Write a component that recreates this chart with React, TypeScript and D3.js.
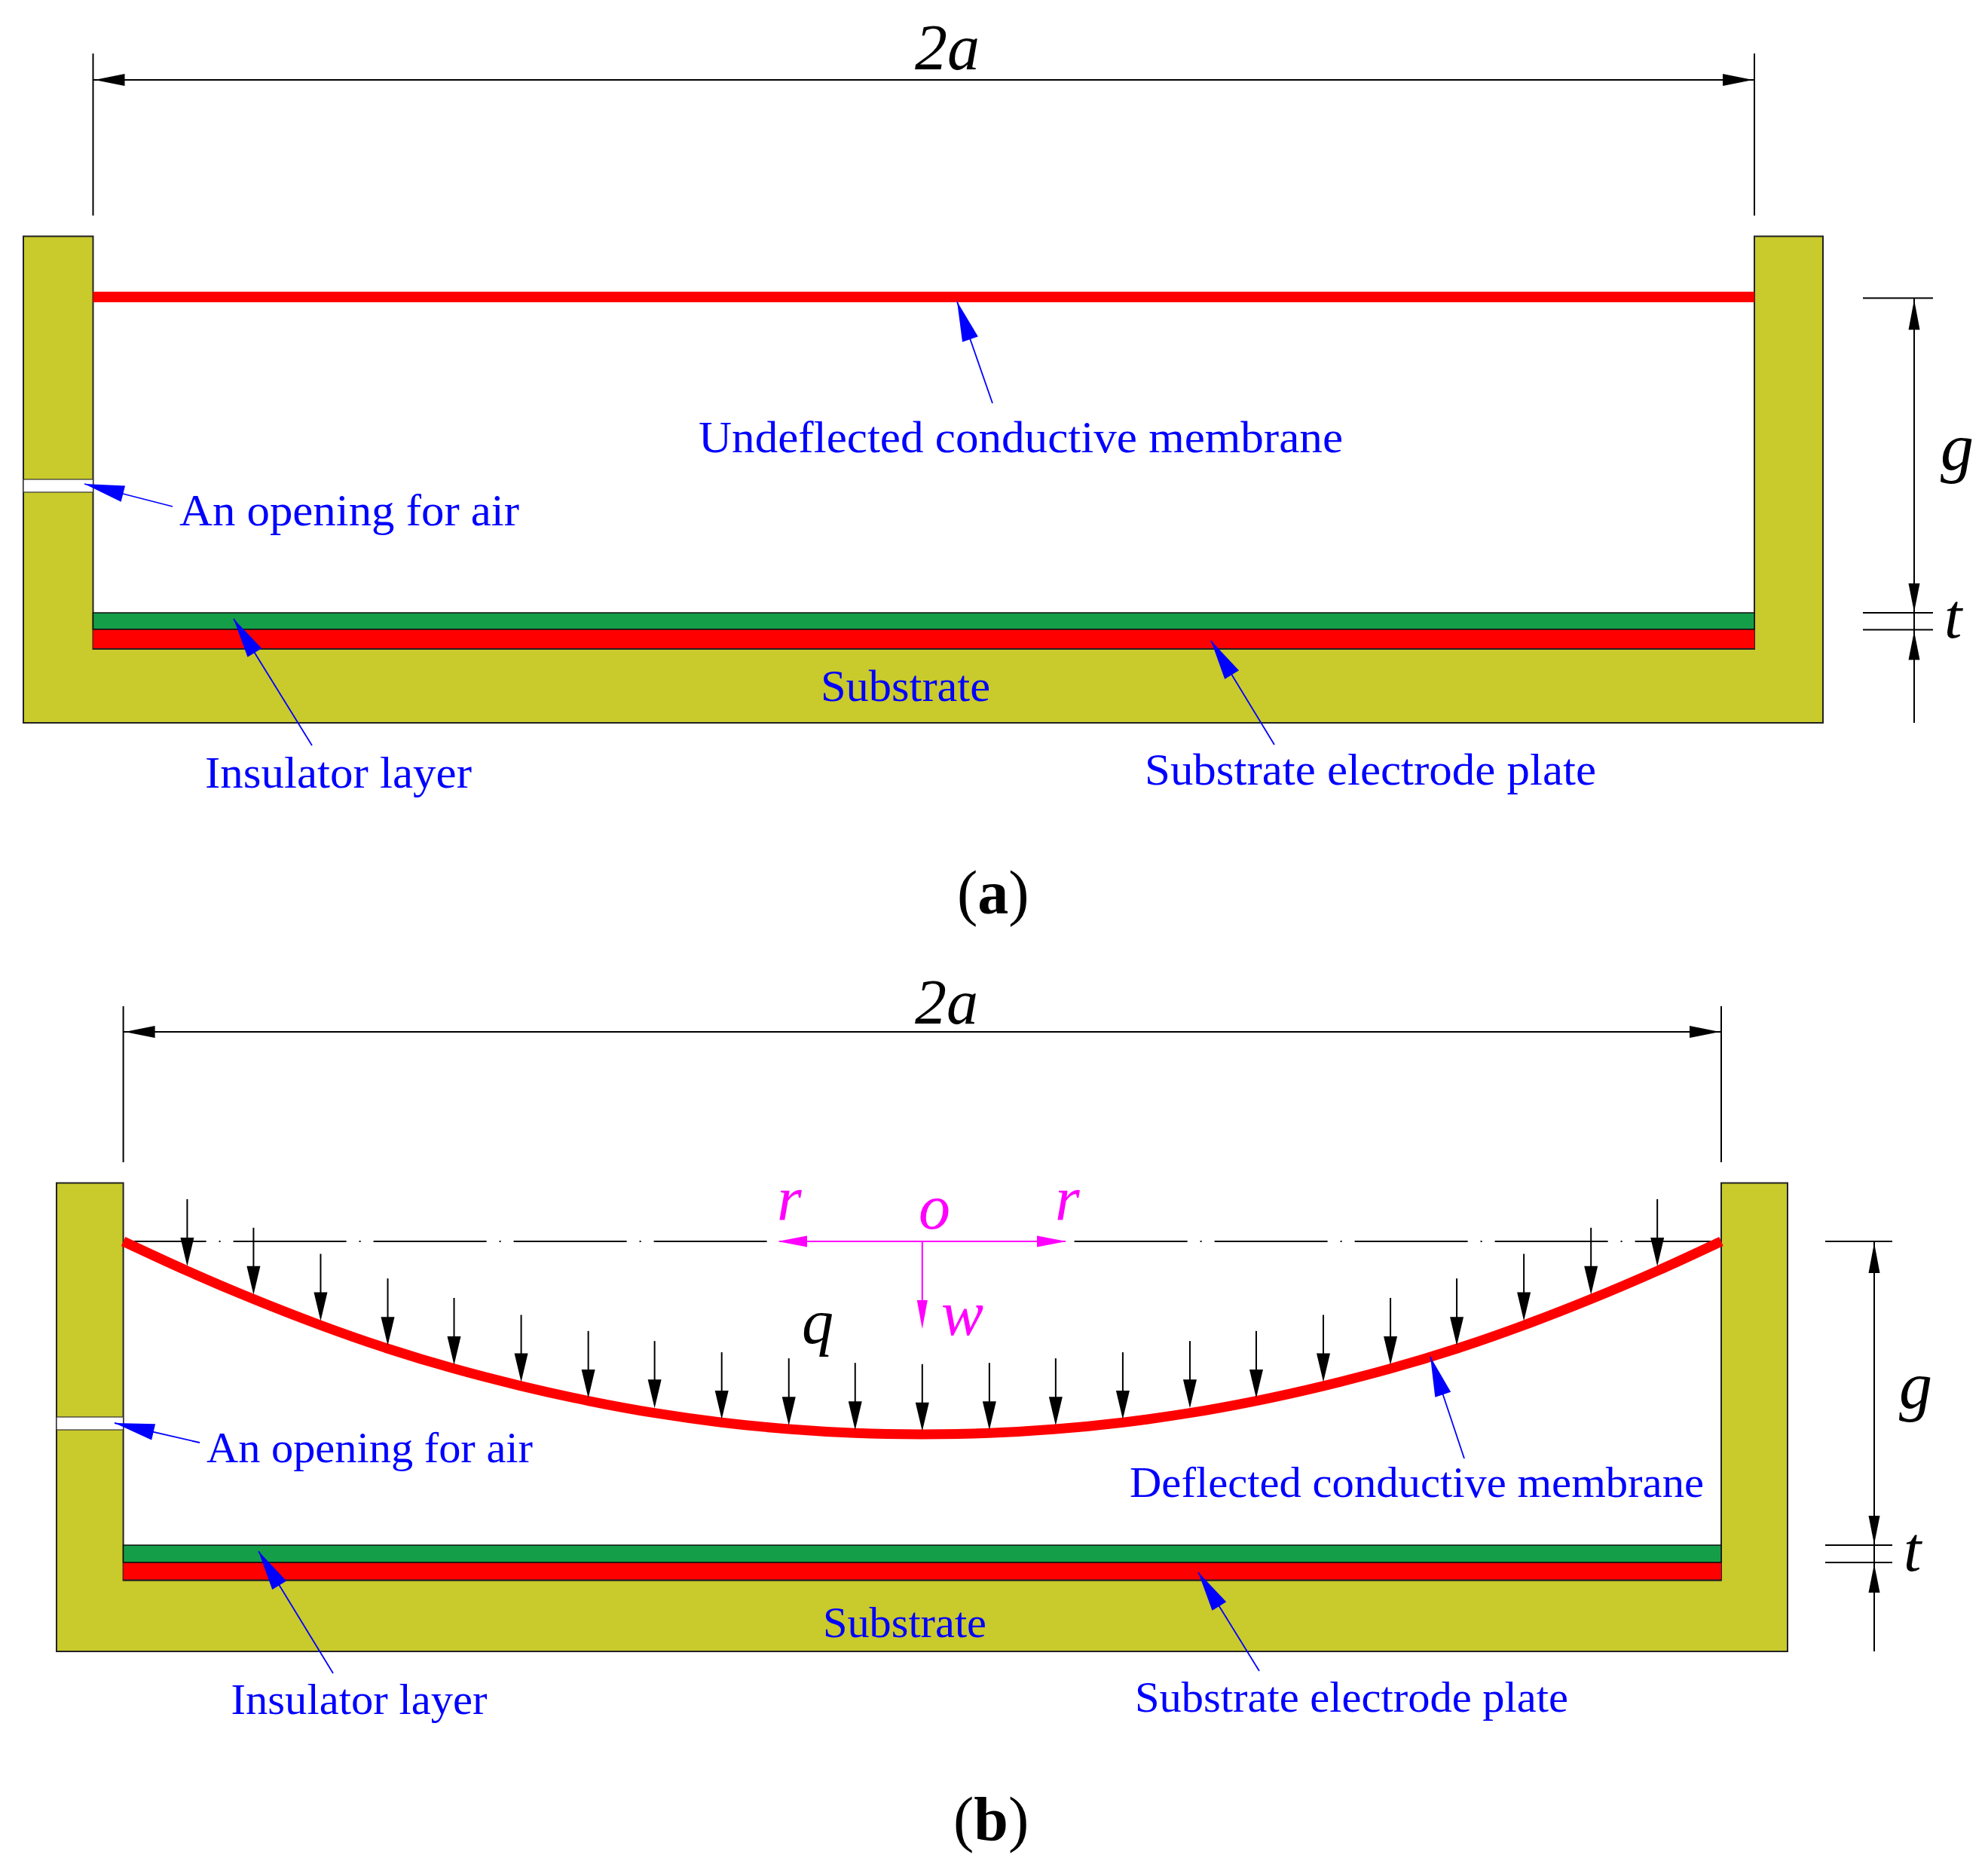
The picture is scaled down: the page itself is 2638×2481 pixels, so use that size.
import React, { useEffect, useRef } from 'react';
import * as d3 from 'd3';

// r / a, position of the load arrows along the membrane
const loadR = [
  -0.92, -0.837, -0.753, -0.669, -0.586, -0.502, -0.418, -0.335, -0.251, -0.167, -0.084, 0,
  0.084, 0.167, 0.251, 0.335, 0.418, 0.502, 0.586, 0.669, 0.753, 0.837, 0.92,
];
// w / g at the tail of each load arrow
const loadTail = [
  -0.139, -0.045, 0.041, 0.122, 0.186, 0.242, 0.295, 0.328, 0.365, 0.385, 0.4, 0.404,
  0.4, 0.385, 0.365, 0.328, 0.295, 0.242, 0.186, 0.122, 0.041, -0.045, -0.139,
];
// deflected membrane profile
const membraneR = [
  -1, -0.92, -0.837, -0.753, -0.669, -0.586, -0.502, -0.418, -0.335, -0.251, -0.167, -0.084, 0,
  0.084, 0.167, 0.251, 0.335, 0.418, 0.502, 0.586, 0.669, 0.753, 0.837, 0.92, 1,
];
const membraneW = [
  0, 0.097, 0.19, 0.276, 0.353, 0.419, 0.476, 0.525, 0.565, 0.596, 0.618, 0.631, 0.635,
  0.631, 0.618, 0.596, 0.565, 0.525, 0.476, 0.419, 0.353, 0.276, 0.19, 0.097, 0,
];

const OLIVE = '#c9ca2c';
const GREEN = '#159e48';
const RED = '#ff0000';
const BLUE = '#0000ff';
const PINK = '#ff00ff';
const SERIF = '"Liberation Serif", serif';

type Sel = d3.Selection<SVGGElement, unknown, null, undefined>;
type Pt = [number, number];

const poly = d3.line();

function head(g: Sel, tip: Pt, toward: Pt, len: number, hw: number, fill: string) {
  const dx = toward[0] - tip[0];
  const dy = toward[1] - tip[1];
  const d = Math.hypot(dx, dy);
  const ux = dx / d;
  const uy = dy / d;
  const bx = tip[0] + ux * len;
  const by = tip[1] + uy * len;
  g.append('path')
    .attr('d', poly([tip, [bx - uy * hw, by + ux * hw], [bx + uy * hw, by - ux * hw]]) + 'Z')
    .attr('fill', fill);
}

function seg(g: Sel, a: Pt, b: Pt, stroke = '#000', w = 2) {
  g.append('line')
    .attr('x1', a[0]).attr('y1', a[1])
    .attr('x2', b[0]).attr('y2', b[1])
    .attr('stroke', stroke)
    .attr('stroke-width', w);
}

function label(g: Sel, s: string, x: number, y: number, size: number, fill: string, len?: number, italic = false) {
  const t = g.append('text')
    .attr('x', x).attr('y', y)
    .attr('font-family', SERIF)
    .attr('font-size', size)
    .attr('font-style', italic ? 'italic' : 'normal')
    .attr('fill', fill)
    .text(s);
  if (len) t.attr('textLength', len).attr('lengthAdjust', 'spacingAndGlyphs');
}

function blueArrow(g: Sel, tip: Pt, end: Pt) {
  seg(g, tip, end, BLUE, 1.8);
  head(g, tip, end, 53, 11, BLUE);
}

// U shaped substrate, layers and opening, shared by both panels
function body(g: Sel, o: { left: number; inL: number; inR: number; right: number; top: number; bottom: number; greenTop: number; greenBot: number; redBot: number; holeTop: number; holeBot: number }) {
  g.append('path')
    .attr('d', poly([
      [o.left, o.top], [o.inL, o.top], [o.inL, o.redBot], [o.inR, o.redBot], [o.inR, o.top],
      [o.right, o.top], [o.right, o.bottom], [o.left, o.bottom],
    ]) + 'Z')
    .attr('fill', OLIVE)
    .attr('stroke', '#222')
    .attr('stroke-width', 2);
  g.append('rect')
    .attr('x', o.inL).attr('y', o.greenTop)
    .attr('width', o.inR - o.inL).attr('height', o.greenBot - o.greenTop)
    .attr('fill', GREEN).attr('stroke', '#111').attr('stroke-width', 1.5);
  g.append('rect')
    .attr('x', o.inL).attr('y', o.greenBot)
    .attr('width', o.inR - o.inL).attr('height', o.redBot - o.greenBot)
    .attr('fill', RED);
  seg(g, [o.inL, o.redBot], [o.inR, o.redBot], '#222', 2);
  seg(g, [o.inL, o.greenBot], [o.inR, o.greenBot], '#111', 1.5);
  g.append('rect')
    .attr('x', o.left).attr('y', o.holeTop)
    .attr('width', o.inL - o.left).attr('height', o.holeBot - o.holeTop)
    .attr('fill', '#fff').attr('stroke', '#333').attr('stroke-width', 1.2);
}

function topDim(g: Sel, xl: number, xr: number, y: number, y0: number, y1: number) {
  seg(g, [xl, y0], [xl, y1]);
  seg(g, [xr, y0], [xr, y1]);
  seg(g, [xl, y], [xr, y]);
  head(g, [xl + 2, y], [xr, y], 40, 8, '#000');
  head(g, [xr - 2, y], [xl, y], 40, 8, '#000');
}

function sideDim(g: Sel, x: number, x0: number, x1: number, y0: number, y1: number, y2: number, yEnd: number) {
  seg(g, [x0, y0], [x1, y0]);
  seg(g, [x0, y1], [x1, y1]);
  seg(g, [x0, y2], [x1, y2]);
  seg(g, [x, y0], [x, yEnd]);
  head(g, [x, y0 + 2], [x, yEnd], 40, 7.5, '#000');
  head(g, [x, y1 - 1], [x, y0], 38, 7.5, '#000');
  head(g, [x, y2 + 2], [x, yEnd], 38, 7.5, '#000');
}

export default function App() {
  const svgRef = useRef<SVGSVGElement>(null);

  useEffect(() => {
    if (!svgRef.current) return;
    const svg = d3.select(svgRef.current);
    svg.selectAll('*').remove();
    const g = svg.append('g') as unknown as Sel;

    // panel (a)
    const xA = d3.scaleLinear().domain([-1, 1]).range([123.5, 2328]);
    const yA = d3.scaleLinear().domain([0, 1]).range([394, 813]);

    topDim(g, xA(-1), xA(1), 106, 71, 286);
    body(g, { left: 31, inL: xA(-1), inR: xA(1), right: 2419, top: 313.5, bottom: 959, greenTop: yA(1), greenBot: 835, redBot: 861, holeTop: 636, holeBot: 653 });
    g.append('line')
      .attr('x1', xA(-1)).attr('y1', yA(0))
      .attr('x2', xA(1)).attr('y2', yA(0))
      .attr('stroke', RED)
      .attr('stroke-width', 14);
    sideDim(g, 2540, 2472, 2565, yA(0) + 1.5, yA(1), 835.5, 959);

    blueArrow(g, [1270, 400], [1317, 535]);
    blueArrow(g, [112, 642], [229, 672]);
    blueArrow(g, [310, 821], [414, 989]);
    blueArrow(g, [1607, 850], [1691, 988]);

    label(g, '2a', 1214, 92, 86, '#000', undefined, true);
    label(g, 'g', 2575, 623, 88, '#000', undefined, true);
    label(g, 't', 2580, 846, 84, '#000', undefined, true);
    label(g, 'Undeflected conductive membrane', 927, 600, 60, BLUE, 855);
    label(g, 'An opening for air', 238, 697, 60, BLUE, 451);
    label(g, 'Substrate', 1089, 930, 60, BLUE, 225);
    label(g, 'Insulator layer', 272, 1045, 60, BLUE, 354);
    label(g, 'Substrate electrode plate', 1519, 1041, 60, BLUE, 599);

    // panel (b)
    const xB = d3.scaleLinear().domain([-1, 1]).range([163.6, 2284]);
    const yB = d3.scaleLinear().domain([0, 1]).range([1647, 2050]);

    topDim(g, xB(-1), xB(1), 1369, 1335, 1542);
    body(g, { left: 75, inL: xB(-1), inR: xB(1), right: 2372, top: 1569.5, bottom: 2191, greenTop: yB(1), greenBot: 2073, redBot: 2096.5, holeTop: 1880, holeBot: 1897 });

    // centre line
    g.append('line')
      .attr('x1', xB(-1)).attr('y1', yB(0))
      .attr('x2', xB(1)).attr('y2', yB(0))
      .attr('stroke', '#000')
      .attr('stroke-width', 2)
      .attr('stroke-dasharray', '150 17 2 17')
      .attr('stroke-dashoffset', 40);

    // deflected membrane
    const profile = d3.line<number>()
      .x(r => xB(r))
      .y((_, i) => yB(membraneW[i]))
      .curve(d3.curveCatmullRom.alpha(0.5));
    g.append('path')
      .attr('d', profile(membraneR))
      .attr('fill', 'none')
      .attr('stroke', RED)
      .attr('stroke-width', 13);

    // uniform load q
    loadR.forEach((r, i) => {
      const x = xB(r);
      const y0 = yB(loadTail[i]);
      const tip = y0 + 89;
      seg(g, [x, y0], [x, tip - 20]);
      head(g, [x, tip], [x, y0], 38, 9, '#000');
    });

    // r, w axes
    seg(g, [1034, yB(0)], [1414, yB(0)], PINK, 2);
    head(g, [1032, yB(0)], [1414, yB(0)], 39, 7.5, PINK);
    head(g, [1415, yB(0)], [1032, yB(0)], 39, 7.5, PINK);
    seg(g, [xB(0), yB(0)], [xB(0), 1730], PINK, 2);
    head(g, [xB(0), 1763], [xB(0), yB(0)], 38, 7, PINK);

    sideDim(g, 2487, 2422, 2511, yB(0), yB(1), 2073, 2191);

    blueArrow(g, [1898, 1800], [1943, 1935]);
    blueArrow(g, [152, 1888], [265, 1914]);
    blueArrow(g, [343, 2058], [442, 2220]);
    blueArrow(g, [1590, 2086], [1671, 2217]);

    label(g, '2a', 1214, 1358, 84, '#000', undefined, true);
    label(g, 'g', 2520, 1868, 88, '#000', undefined, true);
    label(g, 't', 2526, 2084, 84, '#000', undefined, true);
    label(g, 'q', 1064, 1782, 84, '#000', undefined, true);
    label(g, 'r', 1031, 1619, 84, PINK, undefined, true);
    label(g, 'o', 1219, 1630, 84, PINK, undefined, true);
    label(g, 'r', 1400, 1619, 84, PINK, undefined, true);
    label(g, 'w', 1249, 1771, 84, PINK, undefined, true);
    label(g, 'Deflected conductive membrane', 1499, 1986, 58, BLUE, 762);
    label(g, 'An opening for air', 274, 1940, 58, BLUE, 433);
    label(g, 'Substrate', 1092, 2172, 58, BLUE, 217);
    label(g, 'Insulator layer', 306.5, 2274, 58, BLUE, 340);
    label(g, 'Substrate electrode plate', 1506, 2271, 58, BLUE, 575);

    // panel captions
    const cap = (s: string, x: number, y: number) => {
      const t = g.append('text')
        .attr('x', x).attr('y', y)
        .attr('font-family', SERIF)
        .attr('font-size', 82)
        .attr('fill', '#000');
      t.append('tspan').text('(');
      t.append('tspan').attr('font-weight', 'bold').text(s);
      t.append('tspan').text(')');
    };
    cap('a', 1270, 1212);
    cap('b', 1265, 2441);
  }, []);

  return (
    <svg
      ref={svgRef}
      width={2638}
      height={2481}
      viewBox="0 0 2638 2481"
      style={{ position: 'absolute', left: 0, top: 0, background: '#fff' }}
    ></svg>
  );
}
